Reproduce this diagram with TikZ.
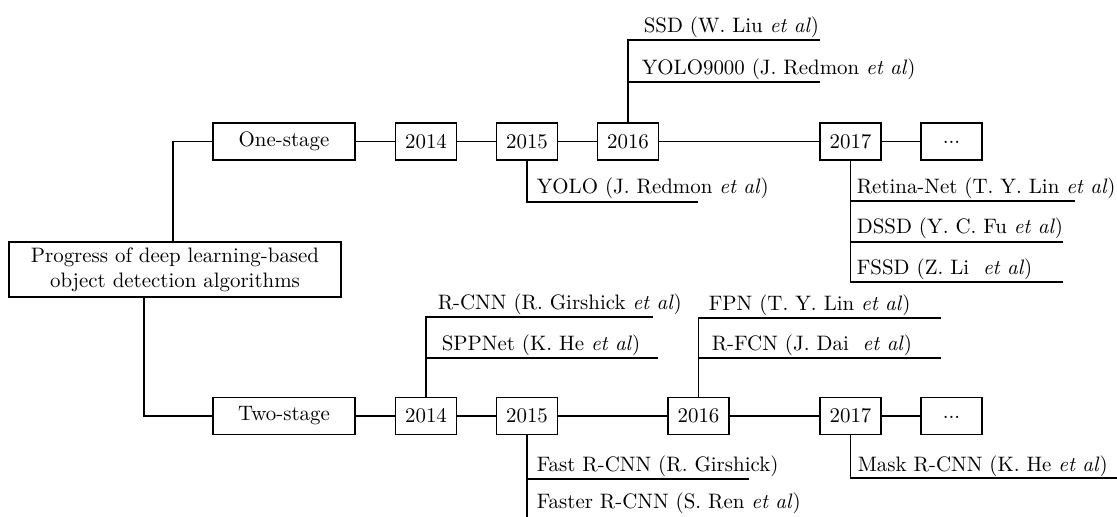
\documentclass[tikz,border=0pt]{standalone}
\begin{document}
\begin{tikzpicture}[x=0.5pt,y=-0.5pt,
  line width=0.8pt,
  font=\fontsize{10.45}{12.5}\selectfont,
  box/.style={draw, line width=0.8pt, minimum width=30.5pt, minimum height=18.5pt, inner sep=0pt},
  stagebox/.style={box, minimum width=71pt},
  lbl/.style={anchor=base west, inner sep=0pt}]
\useasboundingbox (0,0) rectangle (1117,516);
\newcommand{\moredots}{\vphantom{2}\raisebox{2.4pt}{...}}

% root
\node[box, minimum width=166pt, minimum height=27.5pt, align=center] (main) at (175,269.5)
  {Progress of deep learning-based\\object detection algorithms};

% one-stage timeline
\node[stagebox] (one) at (284,141.5) {One-stage};
\node[box] (t14) at (426,141.5) {2014};
\node[box] (t15) at (527,141.5) {2015};
\node[box] (t16) at (628,141.5) {2016};
\node[box] (t17) at (850.5,141.5) {2017};
\node[box] (tdots) at (951.5,141.5) {\moredots};

% two-stage timeline
\node[stagebox] (two) at (284,416) {Two-stage};
\node[box] (b14) at (426,416) {2014};
\node[box] (b15) at (527,416) {2015};
\node[box] (b16) at (698.5,416) {2016};
\node[box] (b17) at (850.5,416) {2017};
\node[box] (bdots) at (951.5,416) {\moredots};

\draw ([xshift=-1pt]main.north) |- (one.west);
\draw ([xshift=-15.5pt]main.south) |- (two.west);
\draw (one) -- (t14) -- (t15) -- (t16) -- (t17) -- (tdots);
\draw (two) -- (b14) -- (b15) -- (b16) -- (b17) -- (bdots);

% one-stage methods
\node[lbl] (yolo) at (536,193) {YOLO (J. Redmon \textit{et al})};
\coordinate (yoloE) at (698,202);
\draw (t15.south) |- (yoloE);

\node[lbl] (ssd) at (643,32) {SSD (W. Liu \textit{et al})};
\node[lbl] (y9k) at (641,74) {YOLO9000 (J. Redmon \textit{et al})};
\coordinate (ssdE) at (820,40);
\coordinate (y9kE) at (820,82);
\draw (t16.north) |- (ssdE);
\draw (t16.north |- y9kE) -- (y9kE);

\node[lbl] (retina) at (856,193) {Retina-Net (T. Y. Lin \textit{et al})};
\node[lbl] (dssd) at (856,233) {DSSD (Y. C. Fu \textit{et al})};
\node[lbl] (fssd) at (856,274) {FSSD (Z. Li~ \textit{et al})};
\coordinate (retinaE) at (1075,201);
\coordinate (dssdE) at (1063,242);
\coordinate (fssdE) at (1063,282);
\draw (t17.south) |- (fssdE);
\draw (t17.south |- retinaE) -- (retinaE);
\draw (t17.south |- dssdE) -- (dssdE);

% two-stage methods
\node[lbl] (rcnn) at (437,309) {R-CNN (R. Girshick \textit{et al})};
\node[lbl] (spp) at (441,350) {SPPNet (K. He \textit{et al})};
\coordinate (rcnnE) at (653,317);
\coordinate (sppE) at (658,358);
\draw (b14.north) |- (rcnnE);
\draw (b14.north |- sppE) -- (sppE);

\node[lbl] (fpn) at (708,310) {FPN (T. Y. Lin \textit{et al})};
\node[lbl] (rfcn) at (711,350) {R-FCN (J. Dai~ \textit{et al})};
\coordinate (fpnE) at (941,318);
\coordinate (rfcnE) at (941,358);
\draw (b16.north) |- (fpnE);
\draw (b16.north |- rfcnE) -- (rfcnE);

\node[lbl] (fast) at (536,471) {Fast R-CNN (R. Girshick)};
\node[lbl] (faster) at (536,508) {Faster R-CNN (S. Ren \textit{et al})};
\coordinate (fastE) at (749,479);
\coordinate (b15end) at (527,520);
\draw (b15.south) -- (b15end);
\draw (b15.south |- fastE) -- (fastE);

\node[lbl] (mask) at (857,471) {Mask R-CNN (K. He \textit{et al})};
\coordinate (maskE) at (1117,478);
\draw (b17.south) |- (maskE);
\end{tikzpicture}
\end{document}
